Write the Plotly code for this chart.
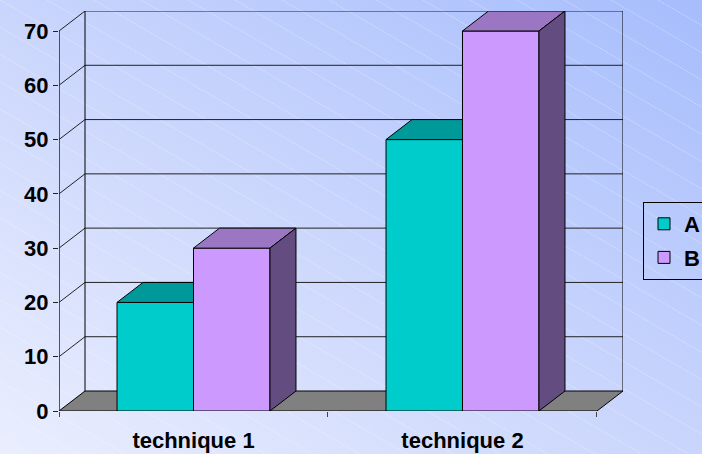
import base64
import plotly.graph_objects as go

# ---------------- data ----------------
categories = ["technique 1", "technique 2"]
series_names = ["A", "B"]
values_A = [20, 50]
values_B = [30, 70]
y_ticks = [0, 10, 20, 30, 40, 50, 60, 70]

# ---------------- style ----------------
front_colors = ["#00CCCC", "#CC99FF"]
top_colors = ["#009999", "#9B77C3"]
side_colors = ["#006666", "#634C80"]
FLOOR_COLOR = "#808080"
W, H = 702, 454
ML, MR, MT, MB = 59, 79, 11, 43
DX = 0.0967      # depth offset in category units
DY = 3.684       # depth offset in value units
BAR_W = 0.2843   # bar width in category units
FONT = dict(family="Arial, 'Liberation Sans', sans-serif", size=22, color="black", weight="bold")

series = [values_A, values_B]
n = len(series)
xc = [i + 0.5 for i in range(len(categories))]
ncat = len(categories)
ymax = y_ticks[-1]

fig = go.Figure()

# front faces (real bars)
for s, (name, vals) in enumerate(zip(series_names, series)):
    off = (s - n / 2) * BAR_W
    fig.add_trace(go.Bar(
        x=xc, y=vals, width=BAR_W, offset=off, name=name, legendgroup=name,
        marker=dict(color=front_colors[s], line=dict(color="black", width=1)),
        hoverinfo="skip"))


def poly(pts, fill):
    xs = [p[0] for p in pts] + [pts[0][0]]
    ys = [p[1] for p in pts] + [pts[0][1]]
    fig.add_trace(go.Scatter(x=xs, y=ys, mode="lines", fill="toself", fillcolor=fill,
                             line=dict(color="black", width=1), showlegend=False,
                             hoverinfo="skip"))


# top and side faces, drawn left to right
for i in range(ncat):
    for s in range(n):
        off = (s - n / 2) * BAR_W
        x0 = xc[i] + off
        x1 = x0 + BAR_W
        h = series[s][i]
        hn = series[s + 1][i] if s + 1 < n else None
        if hn is not None and hn >= h + DY:
            poly([(x0, h), (x1, h), (x1, h + DY), (x0 + DX, h + DY)], top_colors[s])
        else:
            poly([(x0, h), (x1, h), (x1 + DX, h + DY), (x0 + DX, h + DY)], top_colors[s])
            poly([(x1, 0), (x1 + DX, DY), (x1 + DX, h + DY), (x1, h)], side_colors[s])

shapes = []
# floor
shapes.append(dict(type="path", layer="below",
                   path=f"M0,0 L{ncat},0 L{ncat + DX},{DY} L{DX},{DY} Z",
                   fillcolor=FLOOR_COLOR, line=dict(color="black", width=1)))
# back wall gridlines and left wall diagonals
for v in y_ticks[1:]:
    shapes.append(dict(type="line", layer="below", x0=DX, x1=ncat + DX, y0=v + DY, y1=v + DY,
                       line=dict(color="#222222", width=1)))
    shapes.append(dict(type="line", layer="below", x0=0, x1=DX, y0=v, y1=v + DY,
                       line=dict(color="#222222", width=1)))
# back wall edges
shapes.append(dict(type="line", layer="below", x0=DX, x1=DX, y0=DY, y1=ymax + DY,
                   line=dict(color="black", width=1)))
shapes.append(dict(type="line", layer="below", x0=ncat + DX, x1=ncat + DX, y0=DY, y1=ymax + DY,
                   line=dict(color="black", width=1)))
# front value axis line
shapes.append(dict(type="line", layer="below", x0=0, x1=0, y0=0, y1=ymax,
                   line=dict(color="#222222", width=1.5)))

# background: gradient with faint diagonal stripes
lines = []
for k in range(-30, 20):
    xs0 = k * 47
    lines.append(f'<line x1="{xs0}" y1="0" x2="{xs0 + H / 0.58:.1f}" y2="{H}" />')
svg = f'''<svg xmlns="http://www.w3.org/2000/svg" width="{W}" height="{H}" viewBox="0 0 {W} {H}" preserveAspectRatio="none">
<defs><linearGradient id="g" x1="0" y1="1" x2="1" y2="0">
<stop offset="0" stop-color="#EAEEFE"/><stop offset="0.5" stop-color="#C9D5FC"/><stop offset="1" stop-color="#A6BDFC"/>
</linearGradient></defs>
<rect x="0" y="0" width="{W}" height="{H}" fill="url(#g)"/>
<g stroke="#FFFFFF" stroke-opacity="0.45" stroke-width="1" stroke-dasharray="1,1">{''.join(lines)}</g>
</svg>'''
src = "data:image/svg+xml;base64," + base64.b64encode(svg.encode()).decode()
pw = W - ML - MR
ph = H - MT - MB

fig.update_layout(
    width=W, height=H,
    margin=dict(l=ML, r=MR, t=MT, b=MB, autoexpand=False),
    paper_bgcolor="#C9D5FC", plot_bgcolor="rgba(0,0,0,0)",
    font=FONT, barmode="overlay", shapes=shapes,
    images=[dict(source=src, xref="paper", yref="paper", x=-ML / pw, y=1 + MT / ph,
                 sizex=W / pw, sizey=H / ph, xanchor="left", yanchor="top",
                 sizing="stretch", layer="below")],
    xaxis=dict(range=[0, ncat + DX], tickmode="array", tickvals=xc, ticktext=categories,
               ticks="", showgrid=False, zeroline=False, showline=False, fixedrange=True,
               ticklabelstandoff=14,
               minor=dict(tickmode="array", tickvals=list(range(ncat + 1)), ticks="outside",
                          ticklen=5, tickcolor="#444444", tickwidth=1, showgrid=False)),
    yaxis=dict(range=[0, ymax + DY], tickmode="array", tickvals=y_ticks, ticks="outside",
               ticklen=5, tickcolor="#222222", showgrid=False, zeroline=False, showline=False,
               fixedrange=True),
    legend=dict(xref="container", yref="container", x=643 / W, y=1 - 202 / H,
                xanchor="left", yanchor="top", bgcolor="rgba(0,0,0,0)",
                bordercolor="black", borderwidth=1, tracegroupgap=2, entrywidth=80),
    showlegend=True,
)

fig.write_html("out.html")
